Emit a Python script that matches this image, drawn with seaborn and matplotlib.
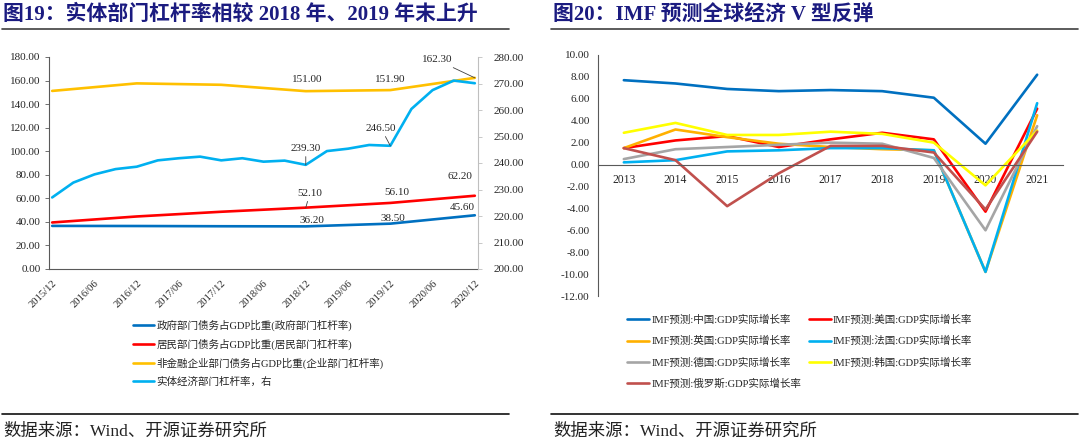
import numpy as np
import pandas as pd
import matplotlib.pyplot as plt
import matplotlib.ticker as mticker
import seaborn as sns

# left chart: leverage ratios, quarterly axis 2015/12 - 2020/12
quarters = ["2015/12", "2016/03", "2016/06", "2016/09", "2016/12", "2017/03", "2017/06",
            "2017/09", "2017/12", "2018/03", "2018/06", "2018/09", "2018/12", "2019/03",
            "2019/06", "2019/09", "2019/12", "2020/03", "2020/06", "2020/09", "2020/12"]
annual_idx = [0, 4, 8, 12, 16, 20]
gov = [36.6, 36.5, 36.3, 36.2, 38.5, 45.6]
household = [39.5, 44.6, 48.6, 52.1, 56.1, 62.2]
corporate = [151.2, 157.6, 156.4, 151.0, 151.9, 162.3]
real_economy = [227.0, 232.6, 235.7, 237.7, 238.6, 241.0, 241.8, 242.4, 241.0, 241.8, 240.5,
                240.9, 239.3, 244.5, 245.4, 246.8, 246.5, 260.4, 267.5, 271.1, 270.1]
left_names = ["政府部门债务占GDP比重(政府部门杠杆率)", "居民部门债务占GDP比重(居民部门杠杆率)",
              "非金融企业部门债务占GDP比重(企业部门杠杆率)", "实体经济部门杠杆率，右"]

# right chart: IMF real GDP growth
years = [2013, 2014, 2015, 2016, 2017, 2018, 2019, 2020, 2021]
china = [7.7, 7.4, 6.9, 6.7, 6.8, 6.7, 6.1, 1.9, 8.2]
us = [1.5, 2.2, 2.6, 1.6, 2.3, 2.9, 2.3, -4.3, 5.1]
uk = [1.5, 3.2, 2.5, 1.9, 1.6, 1.4, 1.3, -9.8, 4.5]
france = [0.2, 0.4, 1.2, 1.3, 1.5, 1.5, 1.3, -9.8, 5.6]
germany = [0.5, 1.4, 1.6, 1.8, 2.0, 1.9, 0.6, -6.0, 3.5]
korea = [2.9, 3.8, 2.7, 2.7, 3.0, 2.8, 2.0, -1.9, 3.1]
russia = [1.5, 0.4, -3.8, -0.8, 1.7, 1.7, 1.1, -4.1, 3.0]
right_names = ["IMF预测:中国:GDP实际增长率", "IMF预测:美国:GDP实际增长率", "IMF预测:英国:GDP实际增长率",
               "IMF预测:法国:GDP实际增长率", "IMF预测:德国:GDP实际增长率", "IMF预测:韩国:GDP实际增长率",
               "IMF预测:俄罗斯:GDP实际增长率"]

sns.set_style("white")
plt.rcParams['font.family'] = ['Liberation Serif', 'Noto Sans CJK SC']
plt.rcParams['font.size'] = 8
plt.rcParams['axes.unicode_minus'] = False

fig = plt.figure(figsize=(10.8, 4.43), dpi=100)
W, H = 1080, 443

def fx(px):
    return px / W

def fy(py):
    return 1 - py / H

axis_c = "#595959"
lw = 1.9

# ---------- left chart ----------
ax1 = fig.add_axes([fx(49), fy(269), fx(478 - 49), (269 - 57) / H])
ax1r = ax1.twinx()

left_lines = []
for vals, col in [(gov, "#0070C0"), (household, "#FF0000"), (corporate, "#FFC000")]:
    sns.lineplot(x=annual_idx, y=vals, ax=ax1, color=col, lw=lw)
    left_lines.append(ax1.lines[-1])
sns.lineplot(x=list(range(len(quarters))), y=real_economy, ax=ax1r, color="#00B0F0", lw=lw)
left_lines.append(ax1r.lines[-1])

ax1.set_xlim(-0.15, 20.15)
ax1.set_ylim(0, 180)
ax1r.set_ylim(200, 280)
ax1.set_yticks(np.arange(0, 181, 20))
ax1r.set_yticks(np.arange(200, 281, 10))
ax1.yaxis.set_major_formatter(mticker.FormatStrFormatter("%.2f"))
ax1r.yaxis.set_major_formatter(mticker.FormatStrFormatter("%.2f"))
ax1.set_xticks(range(0, 21, 2))
ax1.set_xticklabels(quarters[::2], rotation=45, ha="right", rotation_mode="anchor")
for a in (ax1, ax1r):
    a.set_xlabel("")
    a.set_ylabel("")
    a.spines["top"].set_visible(False)
ax1.spines["right"].set_visible(False)
for s in ("left", "bottom"):
    ax1.spines[s].set_color(axis_c)
    ax1.spines[s].set_linewidth(0.8)
ax1r.spines["left"].set_visible(False)
ax1r.spines["bottom"].set_visible(False)
ax1r.spines["right"].set_color("#BFBFBF")
ax1r.spines["right"].set_linewidth(0.8)
ax1.tick_params(axis="both", direction="out", length=3, width=0.6, color=axis_c,
                labelcolor="#262626", pad=3)
ax1.tick_params(axis="x", pad=4, labelsize=7.6)
ax1r.tick_params(axis="y", direction="out", length=3, width=0.6, color="#BFBFBF",
                 labelcolor="#262626", pad=8)

lead = dict(arrowstyle="-", color="#404040", lw=0.6, shrinkA=0, shrinkB=0)
notes = [
    (ax1, 12, 151.0, "151.00", (1, 12), None),
    (ax1, 16, 151.9, "151.90", (0, 11), None),
    (ax1, 20, 162.3, "162.30", (-38, 18), lead),
    (ax1r, 12, 239.3, "239.30", (0, 16), lead),
    (ax1r, 16, 246.5, "246.50", (-9, 17), lead),
    (ax1, 12, 52.1, "52.10", (4, 14), lead),
    (ax1, 16, 56.1, "56.10", (7, 10), None),
    (ax1, 20, 62.2, "62.20", (-15, 19), None),
    (ax1, 20, 45.6, "45.60", (-13, 8), None),
    (ax1, 12, 36.2, "36.20", (6, 6), None),
    (ax1, 16, 38.5, "38.50", (3, 5), None),
]
for a, i, v, s, off, arr in notes:
    a.annotate(s, xy=(i, v), xytext=off, textcoords="offset pixels", ha="center",
               va="center", fontsize=8, color="#262626", arrowprops=arr)

fig.legend(left_lines, left_names, loc="upper left", bbox_to_anchor=(fx(133), fy(320)),
           frameon=False, handlelength=2.0, handletextpad=0.2, labelspacing=0.72,
           borderpad=0, borderaxespad=0, fontsize=7.6)

# ---------- right chart ----------
ax2 = fig.add_axes([fx(598), fy(296), fx(1063 - 598), (296 - 55) / H])
colors = ["#0070C0", "#FF0000", "#FFB000", "#00B0F0", "#A5A5A5", "#FFFF00", "#C0504D"]
right_lines = []
for vals, col in zip([china, us, uk, france, germany, korea, russia], colors):
    sns.lineplot(x=years, y=vals, ax=ax2, color=col, lw=lw)
    right_lines.append(ax2.lines[-1])

ax2.set_xlim(2012.5, 2021.5)
ax2.set_ylim(-12, 10)
ax2.set_yticks(np.arange(-12, 11, 2))
ax2.yaxis.set_major_formatter(mticker.FormatStrFormatter("%.2f"))
ax2.set_xticks(years)
ax2.set_xticklabels([str(y) for y in years])
ax2.set_xticks(np.arange(2013.5, 2022, 1), minor=True)
ax2.set_xlabel("")
ax2.set_ylabel("")
ax2.spines["top"].set_visible(False)
ax2.spines["right"].set_visible(False)
ax2.spines["bottom"].set_position(("data", 0))
for s in ("left", "bottom"):
    ax2.spines[s].set_color(axis_c)
    ax2.spines[s].set_linewidth(0.8)
ax2.tick_params(axis="y", direction="out", length=3, width=0.6, color=axis_c,
                labelcolor="#262626", pad=3)
ax2.tick_params(axis="x", which="major", length=0, labelcolor="#262626", pad=7, labelsize=8.4)
ax2.tick_params(axis="x", which="minor", direction="in", length=3.5, width=0.6, color=axis_c)

order = [0, 2, 4, 6, 1, 3, 5]
fig.legend([right_lines[i] for i in order], [right_names[i] for i in order], ncol=2,
           loc="upper left", bbox_to_anchor=(fx(627), fy(315)), frameon=False,
           handlelength=2.1, handletextpad=0.2, labelspacing=1.05, columnspacing=0.7,
           borderpad=0, borderaxespad=0, fontsize=7.6)

# ---------- titles, rules, sources ----------
title_c = "#1B1B80"
fig.text(fx(3), fy(15), "图19：实体部门杠杆率相较 2018 年、2019 年末上升", fontsize=15,
         fontweight="bold", color=title_c, va="center")
fig.text(fx(553), fy(15), "图20：IMF 预测全球经济 V 型反弹", fontsize=15,
         fontweight="bold", color=title_c, va="center")
for x0, x1 in [(2, 509), (551, 1078)]:
    fig.add_artist(plt.Line2D([fx(x0), fx(x1)], [fy(29), fy(29)], color="#404040", lw=1.2))
    fig.add_artist(plt.Line2D([fx(x0), fx(x1)], [fy(414), fy(414)], color="#111111", lw=1.2))
fig.text(fx(3), fy(432), "数据来源：Wind、开源证券研究所", fontsize=12.5, color="#222222", va="center")
fig.text(fx(553), fy(432), "数据来源：Wind、开源证券研究所", fontsize=12.5, color="#222222", va="center")

fig.savefig("out.png", dpi=100)
